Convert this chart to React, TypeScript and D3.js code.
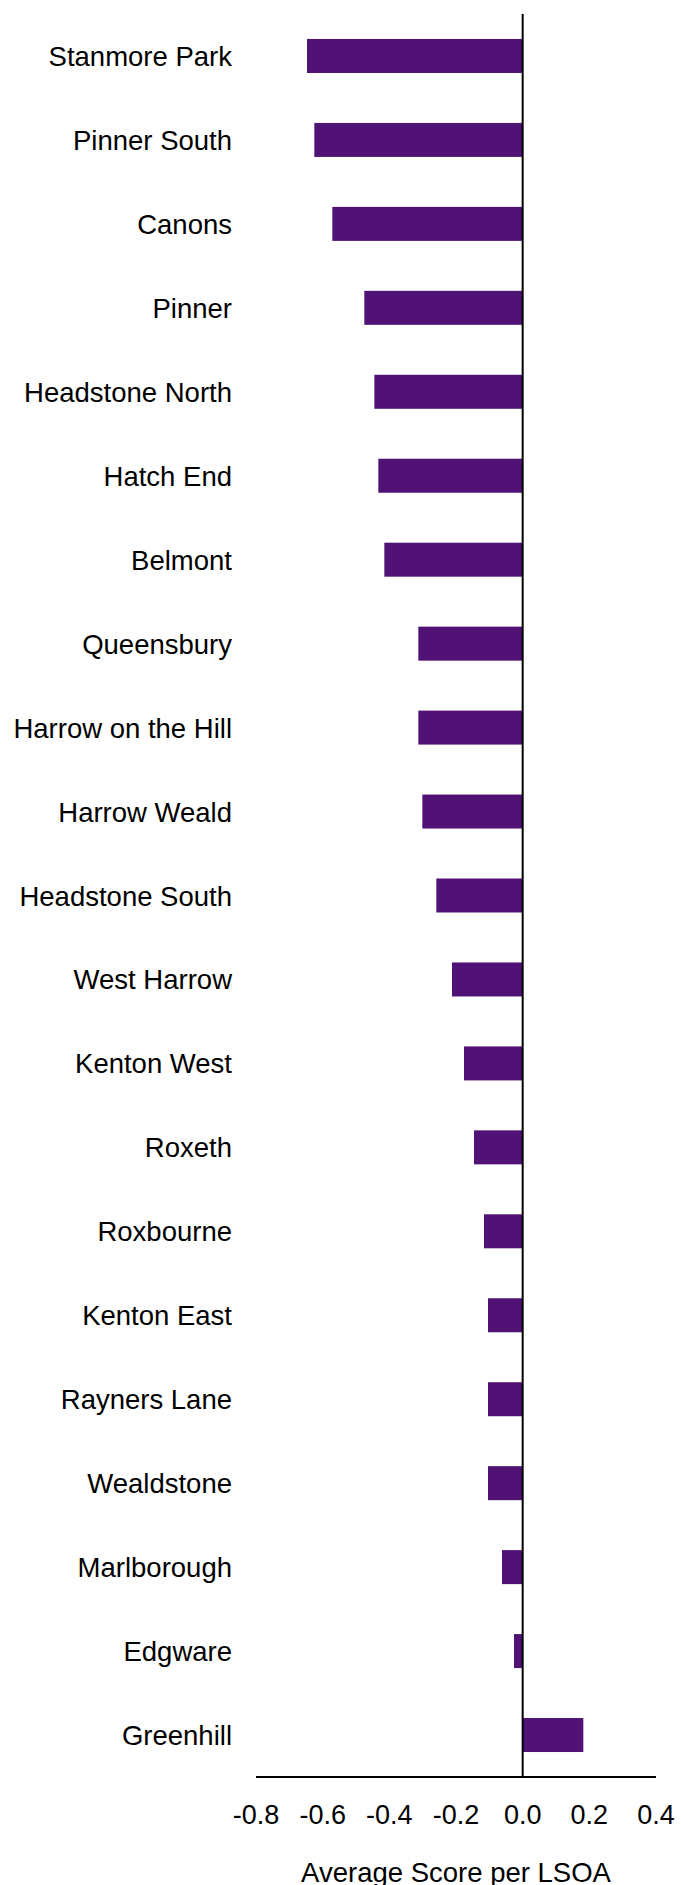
import React from "react";
import * as d3 from "d3";

const wards: string[] = [
  "Stanmore Park",
  "Pinner South",
  "Canons",
  "Pinner",
  "Headstone North",
  "Hatch End",
  "Belmont",
  "Queensbury",
  "Harrow on the Hill",
  "Harrow Weald",
  "Headstone South",
  "West Harrow",
  "Kenton West",
  "Roxeth",
  "Roxbourne",
  "Kenton East",
  "Rayners Lane",
  "Wealdstone",
  "Marlborough",
  "Edgware",
  "Greenhill",
];

const scores: number[] = [
  -0.647, -0.625, -0.571, -0.475, -0.445, -0.433, -0.415, -0.313, -0.313,
  -0.301, -0.259, -0.212, -0.176, -0.146, -0.116, -0.104, -0.104, -0.104,
  -0.062, -0.026, 0.182,
];

const xTicks: number[] = [-0.8, -0.6, -0.4, -0.2, 0.0, 0.2, 0.4];
const axisTitle = "Average Score per LSOA";

const W = 681;
const H = 1885;
const plotLeft = 256;
const plotRight = 656;
const plotTop = 14;
const plotBottom = 1777;
const barColor = "#501274";
const font = "'Liberation Sans', Arial, sans-serif";

export default function App() {
  const x = d3.scaleLinear().domain([-0.8, 0.4]).range([plotLeft, plotRight]);
  const y = d3
    .scaleBand<string>()
    .domain(wards)
    .range([plotTop, plotBottom])
    .paddingInner(0.595)
    .paddingOuter(0.2975);
  const x0 = x(0);

  return (
    <svg
      width={W}
      height={H}
      viewBox={`0 0 ${W} ${H}`}
      style={{ position: "absolute", left: 0, top: 0, background: "#fff" }}
    >
      <rect x={0} y={0} width={W} height={H} fill="#fff" />
      {wards.map((w, i) => {
        const v = scores[i];
        const y0 = y(w)!;
        return (
          <rect
            key={w}
            x={Math.min(x(v), x0)}
            y={y0}
            width={Math.abs(x(v) - x0)}
            height={y.bandwidth()}
            fill={barColor}
          />
        );
      })}
      {wards.map((w) => {
        const cy = y(w)! + y.bandwidth() / 2;
        return (
          <text
            key={"l" + w}
            x={232}
            y={cy + 10}
            textAnchor="end"
            fontFamily={font}
            fontSize={27.5}
            fill="#000"
          >
            {w}
          </text>
        );
      })}
      <line x1={x0} x2={x0} y1={plotTop} y2={plotBottom} stroke="#000" strokeWidth={2} />
      <line x1={plotLeft} x2={plotRight} y1={plotBottom} y2={plotBottom} stroke="#000" strokeWidth={2} />
      {xTicks.map((t) => (
        <text
          key={"t" + t}
          x={x(t)}
          y={1824}
          textAnchor="middle"
          fontFamily={font}
          fontSize={27}
          fill="#000"
        >
          {d3.format(".1f")(t).replace("−", "-")}
        </text>
      ))}
      <text
        x={(plotLeft + plotRight) / 2}
        y={1882}
        textAnchor="middle"
        fontFamily={font}
        fontSize={27.5}
        fill="#000"
      >
        {axisTitle}
      </text>
    </svg>
  );
}
